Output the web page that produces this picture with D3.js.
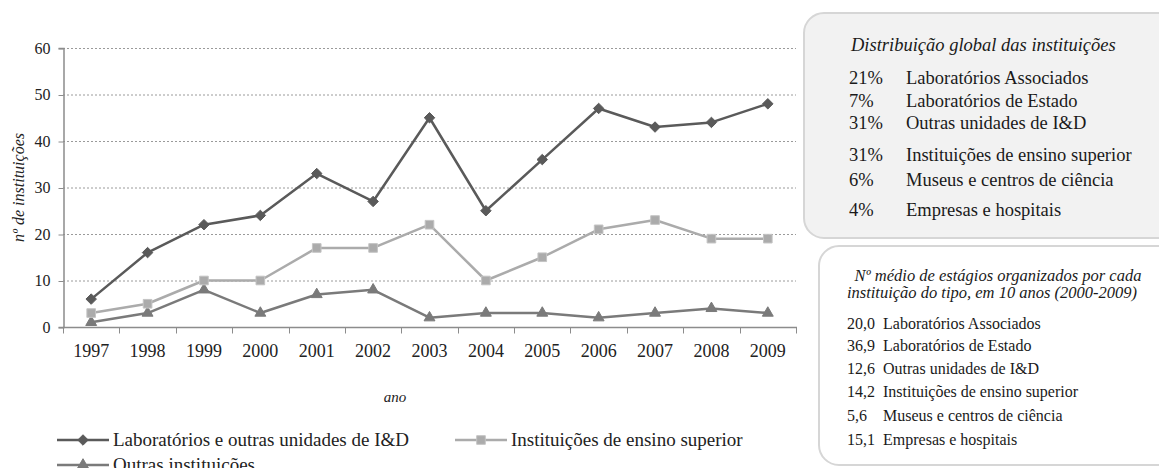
<!DOCTYPE html>
<html>
<head>
<meta charset="utf-8">
<script src="https://cdn.jsdelivr.net/npm/d3@7"></script>
<style>
  html, body { margin: 0; padding: 0; background: #fff; }
  svg { display: block; }
  svg text { font-family: "Liberation Serif", "Times New Roman", serif; }
</style>
</head>
<body>
<svg id="chart" width="1159" height="468" font-family="Liberation Serif"></svg>
<script>
// Years on the category axis
const years = ["1997","1998","1999","2000","2001","2002","2003","2004","2005","2006","2007","2008","2009"];
// Number of institutions per year, by type
const labsValues  = [6, 16, 22, 24, 33, 27, 45, 25, 36, 47, 43, 44, 48];
const ensinoValues = [3, 5, 10, 10, 17, 17, 22, 10, 15, 21, 23, 19, 19];
const outrasValues = [1, 3, 8, 3, 7, 8, 2, 3, 3, 2, 3, 4, 3];
const seriesNames = ["Laboratórios e outras unidades de I&D", "Instituições de ensino superior", "Outras instituições"];
const yTicks = [0, 10, 20, 30, 40, 50, 60];

// Side panel contents
const distPct = ["21%", "7%", "31%", "31%", "6%", "4%"];
const distLabels = ["Laboratórios Associados", "Laboratórios de Estado", "Outras unidades de I&D",
                    "Instituições de ensino superior", "Museus e centros de ciência", "Empresas e hospitais"];
const mediaValues = ["20,0", "36,9", "12,6", "14,2", "5,6", "15,1"];
const mediaLabels = distLabels;

const FONT = "Liberation Serif";
const svg = d3.select("#chart");
const plot = { left: 63, right: 796, top: 48, bottom: 327 };

const x = d3.scaleBand().domain(years).range([plot.left, plot.right]);
const y = d3.scaleLinear().domain([0, 60]).range([plot.bottom, plot.top]);

// gridlines
svg.append("g").selectAll("line").data(yTicks.filter(d => d > 0)).join("line")
  .attr("x1", plot.left).attr("x2", plot.right)
  .attr("y1", d => y(d) + 0.5).attr("y2", d => y(d) + 0.5)
  .attr("stroke", "#9a9a9a").attr("stroke-width", 1).attr("stroke-dasharray", "2,2");

// y axis
const yAxis = svg.append("g").attr("transform", `translate(${plot.left + 0.5},0)`)
  .call(d3.axisLeft(y).tickValues(yTicks).tickSize(5).tickPadding(8));
yAxis.select(".domain").attr("stroke", "#8c8c8c").attr("stroke-width", 1.5);
yAxis.selectAll(".tick line").attr("stroke", "#8c8c8c").attr("transform", "translate(0,0.5)");
yAxis.selectAll(".tick text").attr("font-family", FONT).attr("font-size", 16).attr("fill", "#222");

// x axis: ticks sit on category boundaries
const xAxisG = svg.append("g").attr("transform", `translate(0,${plot.bottom + 0.5})`);
xAxisG.append("line").attr("x1", plot.left).attr("x2", plot.right + 1)
  .attr("stroke", "#8c8c8c").attr("stroke-width", 1.5);
const bounds = years.map(d => x(d)).concat([x(years[years.length - 1]) + x.bandwidth()]);
xAxisG.selectAll("line.tk").data(bounds).join("line").attr("class", "tk")
  .attr("x1", d => Math.round(d) + 0.5).attr("x2", d => Math.round(d) + 0.5)
  .attr("y1", 0).attr("y2", 6).attr("stroke", "#8c8c8c");
xAxisG.selectAll("text").data(years).join("text")
  .attr("x", d => x(d) + x.bandwidth() / 2).attr("y", 29)
  .attr("text-anchor", "middle").attr("font-family", FONT).attr("font-size", 18).attr("fill", "#222").text(d => d);

// axis titles
svg.append("text").attr("transform", `translate(24,${(plot.top + plot.bottom) / 2}) rotate(-90)`)
  .attr("text-anchor", "middle").attr("font-family", FONT).attr("font-style", "italic").attr("font-size", 16).attr("fill", "#222")
  .text("nº de instituições");
svg.append("text").attr("x", 395).attr("y", 402).attr("text-anchor", "middle").attr("font-family", FONT)
  .attr("font-style", "italic").attr("font-size", 15).attr("fill", "#222").text("ano");

// series
const series = [
  { name: seriesNames[0], values: labsValues, color: "#5a5a5a", marker: "diamond", fill: "#5a5a5a", stroke: "#5a5a5a" },
  { name: seriesNames[1], values: ensinoValues, color: "#ababab", marker: "square", fill: "#ababab", stroke: "#c4c4c4" },
  { name: seriesNames[2], values: outrasValues, color: "#7a7a7a", marker: "triangle", fill: "#7a7a7a", stroke: "#7a7a7a" }
];
const cx = d => x(d) + x.bandwidth() / 2;
const line = d3.line().x(d => cx(d.year)).y(d => y(d.v));

function markerPath(type) {
  if (type === "diamond") return d3.symbol(d3.symbolDiamond2, 70)();
  if (type === "square") return d3.symbol(d3.symbolSquare2, 95)();
  return d3.symbol(d3.symbolTriangle2, 85)();
}

// draw bottom series first
[...series].reverse().forEach(s => {
  const pts = years.map((yr, i) => ({ year: yr, v: s.values[i] }));
  const g = svg.append("g");
  g.append("path").attr("d", line(pts)).attr("fill", "none")
    .attr("stroke", s.color).attr("stroke-width", 2.5).attr("stroke-linejoin", "round");
  g.selectAll("path.m").data(pts).join("path").attr("class", "m")
    .attr("d", markerPath(s.marker))
    .attr("transform", d => `translate(${cx(d.year)},${y(d.v)})`)
    .attr("fill", s.fill).attr("stroke", s.stroke).attr("stroke-width", 1);
});

// legend
const legendItems = [
  { s: series[0], x: 57, y: 440 },
  { s: series[1], x: 455, y: 440 },
  { s: series[2], x: 57, y: 465 }
];
legendItems.forEach(it => {
  const g = svg.append("g").attr("transform", `translate(${it.x},${it.y})`);
  g.append("line").attr("x1", 0).attr("x2", 52).attr("stroke", it.s.color).attr("stroke-width", 2.5);
  g.append("path").attr("d", markerPath(it.s.marker)).attr("transform", "translate(26,0)")
    .attr("fill", it.s.fill).attr("stroke", it.s.stroke);
  g.append("text").attr("x", 56).attr("y", 6).attr("font-family", FONT).attr("font-size", 19)
    .attr("fill", "#222").text(it.s.name);
});

// side panels
svg.append("rect").attr("x", 804).attr("y", 13).attr("width", 380).attr("height", 225)
  .attr("rx", 20).attr("ry", 20).attr("fill", "#f2f2f2").attr("stroke", "#d6d6d6").attr("stroke-width", 2);
svg.append("text").attr("x", 851).attr("y", 51).attr("font-family", FONT).attr("font-style", "italic").attr("font-size", 18.5)
  .attr("fill", "#1a1a1a").text("Distribuição global das instituições");
const distY = [84, 107, 129, 161, 186, 216];
distPct.forEach((p, i) => {
  svg.append("text").attr("x", 849).attr("y", distY[i]).attr("font-family", FONT).attr("font-size", 18.5)
    .attr("fill", "#1a1a1a").text(p);
  svg.append("text").attr("x", 906).attr("y", distY[i]).attr("font-family", FONT).attr("font-size", 18.5)
    .attr("fill", "#1a1a1a").text(distLabels[i]);
});

svg.append("rect").attr("x", 819).attr("y", 246).attr("width", 380).attr("height", 219)
  .attr("rx", 20).attr("ry", 20).attr("fill", "#ffffff").attr("stroke", "#d6d6d6").attr("stroke-width", 2);
svg.append("text").attr("x", 998).attr("y", 281).attr("text-anchor", "middle").attr("font-family", FONT).attr("font-style", "italic")
  .attr("font-size", 16.5).attr("fill", "#1a1a1a").text("Nº médio de estágios organizados por cada");
svg.append("text").attr("x", 992).attr("y", 298).attr("text-anchor", "middle").attr("font-family", FONT).attr("font-style", "italic")
  .attr("font-size", 16.5).attr("fill", "#1a1a1a").text("instituição do tipo, em 10 anos (2000-2009)");
const mediaY = [329, 351, 374, 397, 421, 445];
mediaValues.forEach((v, i) => {
  svg.append("text").attr("x", 847).attr("y", mediaY[i]).attr("font-family", FONT).attr("font-size", 16)
    .attr("fill", "#1a1a1a").text(v);
  svg.append("text").attr("x", 883).attr("y", mediaY[i]).attr("font-family", FONT).attr("font-size", 16)
    .attr("fill", "#1a1a1a").text(mediaLabels[i]);
});
</script>
</body>
</html>
